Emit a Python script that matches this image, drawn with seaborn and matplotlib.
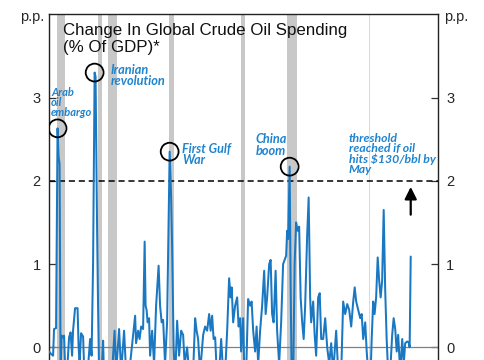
import numpy as np
import pandas as pd
import matplotlib
matplotlib.use("Agg")
import matplotlib.pyplot as plt
import seaborn as sns

# change in global crude oil spending, p.p. of GDP
years = [1972.71, 1973.01, 1973.31, 1973.45, 1973.75, 1973.97, 1974.12, 1974.27, 1974.42, 1974.57,
         1974.79, 1974.94, 1975.16, 1975.38, 1975.68, 1975.90, 1976.13, 1976.27, 1976.57, 1976.94,
         1977.09, 1977.24, 1977.46, 1977.76, 1977.98, 1978.35, 1978.80, 1979.02, 1979.24, 1979.47,
         1979.61, 1979.84, 1979.98, 1980.13, 1980.43, 1980.73, 1980.87, 1981.47, 1982.06, 1982.43,
         1982.66, 1983.10, 1983.40, 1983.84, 1984.14, 1984.73, 1985.18, 1985.48, 1985.62, 1985.92,
         1986.14, 1986.37, 1986.66, 1986.89, 1987.03, 1987.18, 1987.33, 1987.55, 1987.70, 1988.00,
         1988.29, 1988.59, 1988.96, 1989.18, 1989.41, 1989.63, 1989.92, 1990.22, 1990.60, 1990.82,
         1990.97, 1991.19, 1991.41, 1991.71, 1992.00, 1992.30, 1992.60, 1992.82, 1993.19, 1993.49,
         1994.08, 1994.38, 1994.60, 1994.82, 1995.12, 1995.57, 1995.86, 1996.16, 1996.46, 1996.68,
         1996.90, 1997.12, 1997.35, 1997.64, 1997.94, 1998.24, 1998.53, 1998.83, 1999.13, 1999.42,
         1999.65, 1999.80, 2000.02, 2000.31, 2000.61, 2000.83, 2001.06, 2001.20, 2001.50, 2001.65,
         2001.95, 2002.24, 2002.54, 2002.76, 2002.99, 2003.28, 2003.50, 2003.73, 2004.02, 2004.32,
         2004.62, 2004.84, 2005.06, 2005.36, 2005.58, 2005.80, 2006.02, 2006.32, 2006.54, 2006.84,
         2007.14, 2007.43, 2007.65, 2007.88, 2008.03, 2008.17, 2008.40, 2008.54, 2008.69, 2008.92,
         2009.14, 2009.36, 2009.58, 2009.81, 2010.03, 2010.26, 2010.48, 2010.70, 2011.00, 2011.22,
         2011.44, 2011.59, 2011.89, 2012.11, 2012.33, 2012.63, 2012.86, 2013.08, 2013.37, 2013.67,
         2013.97, 2014.27, 2014.56, 2014.86, 2015.30, 2015.60, 2016.05, 2016.34, 2016.64, 2016.94,
         2017.23, 2017.53, 2017.83, 2018.05, 2018.27, 2018.57, 2018.87, 2019.09, 2019.31, 2019.61,
         2019.83, 2020.05, 2020.34, 2020.57, 2020.79, 2021.00, 2021.23, 2021.46, 2021.68, 2021.90,
         2022.12, 2022.35, 2022.57, 2022.79, 2023.01, 2023.31, 2023.61, 2023.83, 2024.06, 2024.28,
         2024.50, 2024.80, 2025.10, 2025.32, 2025.54, 2025.84, 2026.06, 2026.20, 2026.36]
values = [-0.05, -0.08, -0.10, 0.22, 0.23, 2.63, 2.30, 2.20, -0.30, 0.14,
          0.12, 0.14, -0.40, -0.30, 0.12, 0.18, -0.10, 0.20, 0.47, 0.47,
          0.02, -0.20, 0.17, 0.13, -0.40, -0.40, 0.10, -0.10, 1.00, 3.30,
          3.25, 1.40, 0.50, -0.30, -0.40, 0.08, -0.40, -0.40, -0.30, 0.20,
          -0.30, 0.22, -0.30, 0.20, -0.30, -0.20, 0.15, 0.38, 0.05, 0.20,
          0.10, 0.25, 0.22, 1.27, 0.50, 0.45, 0.30, 0.35, -0.10, 0.20,
          -0.20, 0.50, 0.98, 0.50, 0.30, 0.33, -0.20, 0.30, 2.35, 1.80,
          1.20, 0.00, -0.40, 0.32, -0.10, 0.20, 0.15, -0.20, 0.00, -0.30,
          -0.30, 0.35, 0.20, 0.10, -0.30, 0.15, 0.25, 0.20, 0.40, 0.20,
          0.38, 0.10, 0.12, -0.40, -0.30, 0.10, -0.30, -0.30, 0.20, 0.83,
          0.60, 0.72, 0.30, 0.50, 0.60, 0.25, 0.35, -0.05, 0.35, -0.20,
          -0.30, 0.58, 0.50, 0.55, 0.20, -0.05, 0.25, -0.20, 0.20, 0.50,
          0.92, 0.40, 0.60, 1.00, 1.05, 0.40, 0.30, 0.92, 0.20, -0.20,
          0.30, 1.00, 1.05, 1.10, 1.40, 1.30, 2.17, 0.80, -0.30, -0.40,
          1.00, 1.50, 1.40, 1.45, 0.60, 0.30, 0.10, 0.50, 1.35, 1.80,
          0.60, 0.30, 0.55, 0.15, -0.10, 0.60, 0.65, 0.10, 0.10, 0.35,
          0.00, -0.20, 0.05, -0.30, 0.20, -0.30, -0.30, 0.55, 0.40, 0.52,
          0.45, 0.25, 0.55, 0.72, 0.55, 0.45, 0.35, 0.40, 0.10, 0.30,
          -0.05, -0.30, -0.50, 0.10, 0.55, 0.40, 0.60, 1.08, 0.80, 0.60,
          0.80, 1.65, 0.70, 0.10, -0.30, -0.30, 0.15, 0.35, 0.22, -0.05,
          0.15, -0.30, 0.10, -0.20, 0.05, 0.07, 0.06, 0.00, 1.09]

# recessions (shaded)
rec_start = [1973.9, 1980.0, 1981.5, 1990.5, 2001.2, 2008.0, 2020.1]
rec_end = [1975.1, 1980.5, 1982.8, 1991.2, 2001.8, 2009.45, 2020.35]

event_years = [1973.97, 1979.47, 1990.6, 2008.4]
event_labels = ["Arab\noil\nembargo", "Iranian\nrevolution", "First Gulf\nWar", "China\nboom"]
label_pos = [(1973.0, 3.13), (1981.8, 3.40), (1992.45, 2.46), (2003.4, 2.57)]
label_size = [8.0, 9.2, 9.0, 9.2]
label_spacing = [0.93, 0.92, 0.92, 0.92]

threshold = 2.0
threshold_text = "threshold\nreached if oil\nhits \\$130/bbl by\nMay"

blue = "#1a78c2"
txt_blue = "#1f84cf"

sns.set_style("white")
plt.rcParams["font.family"] = ["Liberation Sans", "DejaVu Sans"]

df = pd.DataFrame({"year": years, "value": values})

fig = plt.figure(figsize=(4.85, 3.6), dpi=100)
ax = fig.add_axes([0.101, 0.0, 0.802, 0.9603])

for s, e in zip(rec_start, rec_end):
    c = "#d9d9d9" if s > 2015 else "#c8c8c8"
    ax.axvspan(s, e, color=c, lw=0, zorder=0)

ax.axhline(0, color="#808080", lw=0.9, zorder=1)
ax.axhline(threshold, color="black", lw=1.1, ls=(0, (4, 2.5)), zorder=2)

sns.lineplot(data=df, x="year", y="value", ax=ax, color=blue, lw=1.45,
             estimator=None, zorder=3)

ev_vals = np.interp(event_years, years, values)
ax.scatter(event_years, ev_vals, s=165, facecolors="none", edgecolors="black",
           linewidths=1.3, zorder=4)

for lab, (x, y), fs, sp in zip(event_labels, label_pos, label_size, label_spacing):
    ax.text(x, y, lab, color=txt_blue, fontsize=fs, fontweight="bold",
            fontstyle="italic", family=["Lato", "DejaVu Sans"],
            ha="left", va="top", linespacing=sp)

ax.text(2017.2, 2.58, threshold_text, color=txt_blue, fontsize=8.8, fontweight="bold",
        fontstyle="italic", family=["Lato", "DejaVu Sans"], ha="left", va="top",
        linespacing=0.92)

ax.annotate("", xy=(years[-1], 1.96), xytext=(years[-1], 1.56),
            arrowprops=dict(arrowstyle="-|>", color="black", lw=1.6, mutation_scale=18))

ax.text(1974.8, 3.9, "Change In Global Crude Oil Spending\n(% Of GDP)*", fontsize=12.2,
        ha="left", va="top", linespacing=1.2, color="#111111")

ax.set_xlim(1972.7, 2030.4)
ax.set_ylim(-0.152, 4.0)
ax.set_yticks([0, 1, 2, 3])
ax.set_xticks([])
ax.set_xlabel("")
ax.set_ylabel("")
ax.tick_params(axis="y", direction="in", length=5, width=0.9, left=True, right=True,
               labelleft=True, labelright=True, labelsize=10.5, pad=6, color="#333333")
for side in ["left", "right", "top"]:
    ax.spines[side].set_color("#222222")
    ax.spines[side].set_linewidth(1.0)
ax.spines["bottom"].set_visible(False)

ax.text(-0.013, 0.992, "p.p.", transform=ax.transAxes, ha="right", va="center", fontsize=10.5)
ax.text(1.015, 0.992, "p.p.", transform=ax.transAxes, ha="left", va="center", fontsize=10.5)

fig.savefig("out.png", dpi=100)
